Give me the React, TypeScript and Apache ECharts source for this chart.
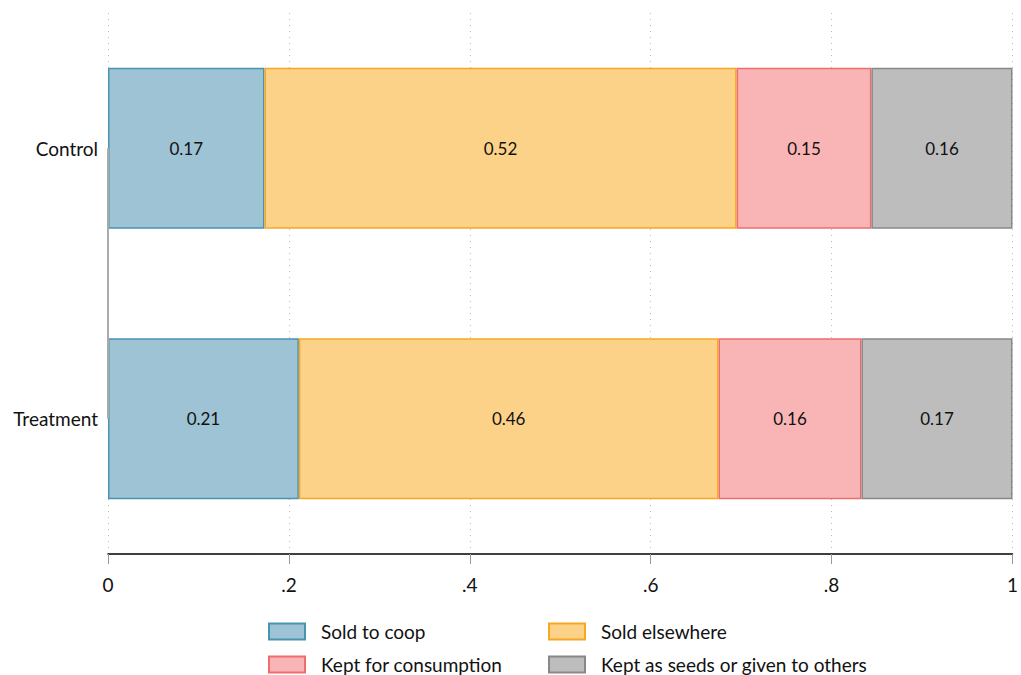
import React, { useEffect, useRef } from "react";
import * as echarts from "echarts";

const categories = ["Control", "Treatment"];
const seriesNames = ["Sold to coop", "Sold elsewhere", "Kept for consumption", "Kept as seeds or given to others"];
const soldToCoop = [0.173, 0.211];
const soldElsewhere = [0.522, 0.464];
const keptConsumption = [0.149, 0.158];
const keptSeeds = [0.156, 0.167];
const tickLabels: Record<string, string> = { "0": "0", "0.2": ".2", "0.4": ".4", "0.6": ".6", "0.8": ".8", "1": "1" };

const fills = ["#9dc3d4", "#fcd289", "#f9b5b5", "#bdbdbd"];
const borders = ["#4a93b1", "#f7a823", "#ee6e6e", "#888888"];
const FONT = "Lato, 'Noto Sans', sans-serif";

export default function App() {
  const ref = useRef<HTMLDivElement>(null);
  useEffect(() => {
    const chart = echarts.init(ref.current!, undefined, { renderer: "svg" });
    const values = [soldToCoop, soldElsewhere, keptConsumption, keptSeeds];
    const series: any[] = values.map((v, i) => ({
      name: seriesNames[i],
      type: "bar",
      stack: "total",
      barWidth: "59.5%",
      data: v,
      itemStyle: { color: fills[i], borderColor: borders[i], borderWidth: 1.5 },
      label: {
        show: true,
        position: "inside",
        color: "#111",
        fontSize: 17,
        fontFamily: FONT,
        padding: [8, 0, 0, 0],
        formatter: (p: any) => Number(p.value).toFixed(2),
      },
      emphasis: { disabled: true },
    }));
    series[0].markLine = {
      silent: true,
      symbol: "none",
      label: { show: false },
      lineStyle: { color: "#aaaaaa", width: 2, type: "solid" },
      data: [[{ coord: [0, categories[0]] }, { coord: [0, categories[1]] }]],
    };
    const legendCommon = {
      orient: "vertical",
      top: 622,
      height: 53,
      width: 330,
      padding: 0,
      itemWidth: 36,
      itemHeight: 16,
      itemGap: 14,
      icon: "rect",
      selectedMode: false,
      textStyle: { fontSize: 19, color: "#111", fontFamily: FONT, padding: [0, 0, 0, 11] },
    };
    chart.setOption({
      animation: false,
      backgroundColor: "#ffffff",
      textStyle: { fontFamily: FONT },
      grid: { left: 108, right: 7, top: 13, bottom: 121 },
      xAxis: {
        type: "value",
        min: 0,
        max: 1,
        interval: 0.2,
        axisLine: { show: true, lineStyle: { color: "#000", width: 1.5 } },
        axisTick: { show: true, length: 10, lineStyle: { color: "#999" } },
        axisLabel: {
          color: "#111",
          fontSize: 19,
          margin: 21,
          fontFamily: FONT,
          formatter: (v: number) => tickLabels[String(Math.round(v * 10) / 10)] ?? String(v),
        },
        splitLine: { show: true, lineStyle: { color: "#bbb", type: [1, 5], width: 1 } },
      },
      yAxis: {
        type: "category",
        data: categories,
        inverse: true,
        axisLine: { show: false },
        axisTick: { show: false },
        axisLabel: { color: "#111", fontSize: 19, margin: 10, fontFamily: FONT, padding: [8, 0, 0, 0] },
      },
      legend: [
        { ...legendCommon, left: 268, data: [seriesNames[0], seriesNames[2]] },
        { ...legendCommon, left: 548, data: [seriesNames[1], seriesNames[3]] },
      ],
      series,
    });
    return () => chart.dispose();
  }, []);
  return <div ref={ref} style={{ width: 1021, height: 675, position: "absolute", left: 0, top: 0 }} />;
}
